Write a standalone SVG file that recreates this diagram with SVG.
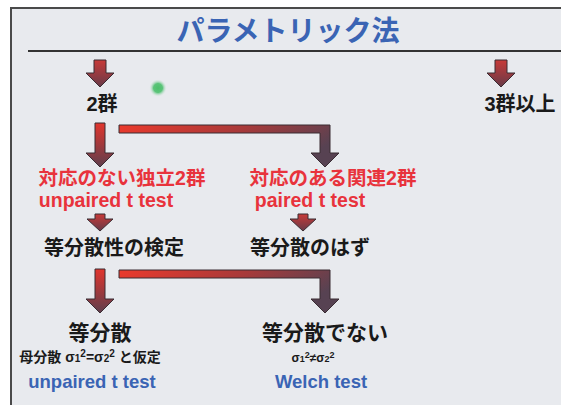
<svg xmlns="http://www.w3.org/2000/svg" width="561" height="405" viewBox="0 0 561 405">
<defs>
<linearGradient id="gv" x1="0" y1="0" x2="0" y2="1">
<stop offset="0" stop-color="#e2352d"/>
<stop offset="1" stop-color="#5e3e4c"/>
</linearGradient>
<linearGradient id="gh" x1="0" y1="0" x2="1" y2="0.3">
<stop offset="0" stop-color="#ec3a2c"/>
<stop offset="0.55" stop-color="#a73a3a"/>
<stop offset="1" stop-color="#574252"/>
</linearGradient>
<linearGradient id="gs" x1="0" y1="0" x2="0" y2="1">
<stop offset="0" stop-color="#c83a38"/>
<stop offset="1" stop-color="#663a48"/>
</linearGradient>
<radialGradient id="gdot">
<stop offset="0" stop-color="#4cc06a"/>
<stop offset="0.5" stop-color="#5cc47a"/>
<stop offset="1" stop-color="#e9ebef" stop-opacity="0"/>
</radialGradient>
</defs>
<style>
.arr{stroke:#3a2c33;stroke-width:1;stroke-linejoin:miter}
.t{font-family:"Liberation Sans","Noto Sans CJK JP",sans-serif;font-weight:700;text-anchor:middle}
.k{fill:#1a1a1a}
.r{fill:#e8333c}
.b{fill:#3a64b4}
</style>
<rect x="0" y="0" width="561" height="405" fill="#ffffff"/>
<rect x="11" y="8" width="560" height="410" fill="#e8eaee" stroke="#4a4a4a" stroke-width="2"/>
<line x1="28" y1="51" x2="561" y2="51" stroke="#333" stroke-width="2"/>
<g id="title"><text class="t b" x="288" y="41" font-size="28">パラメトリック法</text></g>
<circle cx="158" cy="88" r="9" fill="url(#gdot)"/>

<g id="connectors">
<polygon class="arr" fill="url(#gs)" points="94,60 106,60 106,73 114,73 100,87 86,73 94,73"/>
<polygon class="arr" fill="url(#gs)" points="495,60 507,60 507,73 515,73 501,87 487,73 495,73"/>
<polygon class="arr" fill="url(#gv)" points="95,123 105,123 105,153 114,153 100,167 86,153 95,153"/>
<polygon class="arr" fill="url(#gh)" points="119,125 330,125 330,153 339,153 325,167 311,153 320,153 320,133 119,133"/>
<polygon class="arr" fill="url(#gs)" points="95,214 105,214 105,219 113,219 100,231 87,219 95,219"/>
<polygon class="arr" fill="url(#gs)" points="298,214 308,214 308,219 316,219 303,231 290,219 298,219"/>
<polygon class="arr" fill="url(#gv)" points="95,269 105,269 105,299 114,299 100,313 86,299 95,299"/>
<polygon class="arr" fill="url(#gh)" points="119,270 330,270 330,299 339,299 325,313 311,299 320,299 320,278 119,278"/>
</g>

<g id="n2"><text class="t k" x="102" y="111" font-size="20">2群</text></g>
<g id="n3"><text class="t k" x="520" y="111" font-size="20">3群以上</text></g>
<g id="unpaired">
<text class="t r" x="122" y="185" font-size="19.5">対応のない独立2群</text>
<text class="t r" x="106" y="207" font-size="19.5">unpaired t test</text>
</g>
<g id="paired">
<text class="t r" x="333" y="185" font-size="19.5">対応のある関連2群</text>
<text class="t r" x="310" y="207" font-size="19.5">paired t test</text>
</g>
<g id="fcheck"><text class="t k" x="114" y="255" font-size="20">等分散性の検定</text></g>
<g id="eqexp"><text class="t k" x="310" y="255" font-size="20">等分散のはず</text></g>
<g id="eq">
<text class="t k" x="100" y="340" font-size="21">等分散</text>
<text class="t k" x="90" y="362" font-size="14">母分散 σ<tspan font-size="10">1</tspan><tspan font-size="10" dy="-5">2</tspan><tspan dy="5">=σ</tspan><tspan font-size="10">2</tspan><tspan font-size="10" dy="-5">2</tspan><tspan dy="5"> と仮定</tspan></text>
<text class="t b" x="92" y="388" font-size="18.5">unpaired t test</text>
</g>
<g id="neq">
<text class="t k" x="325" y="340" font-size="21">等分散でない</text>
<text class="t k" x="313" y="362" font-size="12">σ<tspan font-size="9">1</tspan><tspan font-size="9" dy="-4">2</tspan><tspan dy="4">≠σ</tspan><tspan font-size="9">2</tspan><tspan font-size="9" dy="-4">2</tspan></text>
<text class="t b" x="321" y="388" font-size="18.5">Welch test</text>
</g>
</svg>
